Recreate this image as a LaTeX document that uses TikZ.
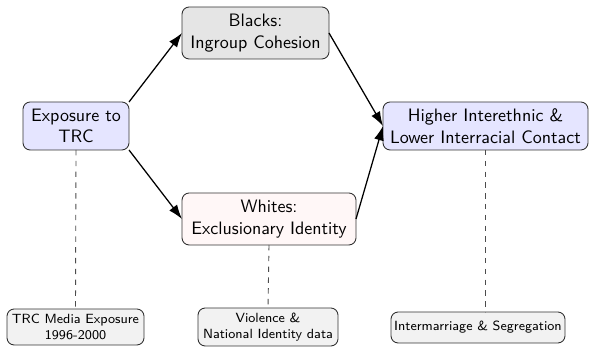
\documentclass[tikz,border=0pt]{standalone}
\usepackage{fontspec}
\usetikzlibrary{arrows.meta}
\def\pxu{0.5556pt}
\begin{document}
\begin{tikzpicture}[x=0.5556pt,y=-0.5556pt,
  box/.style={draw=black!80, rounded corners=4pt, align=center, inner sep=0pt, outer sep=0pt, font=\sffamily, line width=0.5pt},
  bluebox/.style={box, fill=blue!10},
  graybox/.style={box, fill=black!10},
  pinkbox/.style={box, fill=red!3},
  srcbox/.style={box, fill=black!5, font=\sffamily\fontsize{7.4}{8.8}\selectfont},
  arr/.style={-{Latex[length=8pt,width=5.5pt]}, line width=0.7pt},
  dline/.style={dashed, draw=black!70, line width=0.5pt}]
\useasboundingbox (0,0) rectangle (590,347);
\node[bluebox, minimum width=106*\pxu, minimum height=48*\pxu] (exp) at (76,126) {Exposure to\\TRC};
\node[graybox, minimum width=147*\pxu, minimum height=52*\pxu] (blk) at (255.5,33) {Blacks:\\Ingroup Cohesion};
\node[pinkbox, minimum width=174*\pxu, minimum height=52*\pxu] (wht) at (269,219) {Whites:\\Exclusionary Identity};
\node[bluebox, minimum width=205*\pxu, minimum height=48*\pxu] (hig) at (485.5,126) {Higher Interethnic \&\\Lower Interracial Contact};
\node[srcbox, minimum width=137*\pxu, minimum height=36*\pxu] (trc) at (75.5,327) {TRC Media Exposure\\1996-2000};
\node[srcbox, minimum width=140*\pxu, minimum height=38*\pxu] (vio) at (268,327) {Violence \&\\National Identity data};
\node[srcbox, minimum width=174*\pxu, minimum height=31*\pxu] (int) at (478,327.5) {Intermarriage \& Segregation};
\draw[arr] (exp.north east) -- (blk.west);
\draw[arr] (exp.south east) -- (wht.west);
\draw[arr] (blk.east) -- (hig.west);
\draw[arr] (wht.east) -- (hig.west);
\draw[dline] (exp.south) -- (trc.north);
\draw[dline] (wht.south) -- (vio.north);
\draw[dline] (hig.south) -- (hig.south |- int.north);
\end{tikzpicture}
\end{document}
